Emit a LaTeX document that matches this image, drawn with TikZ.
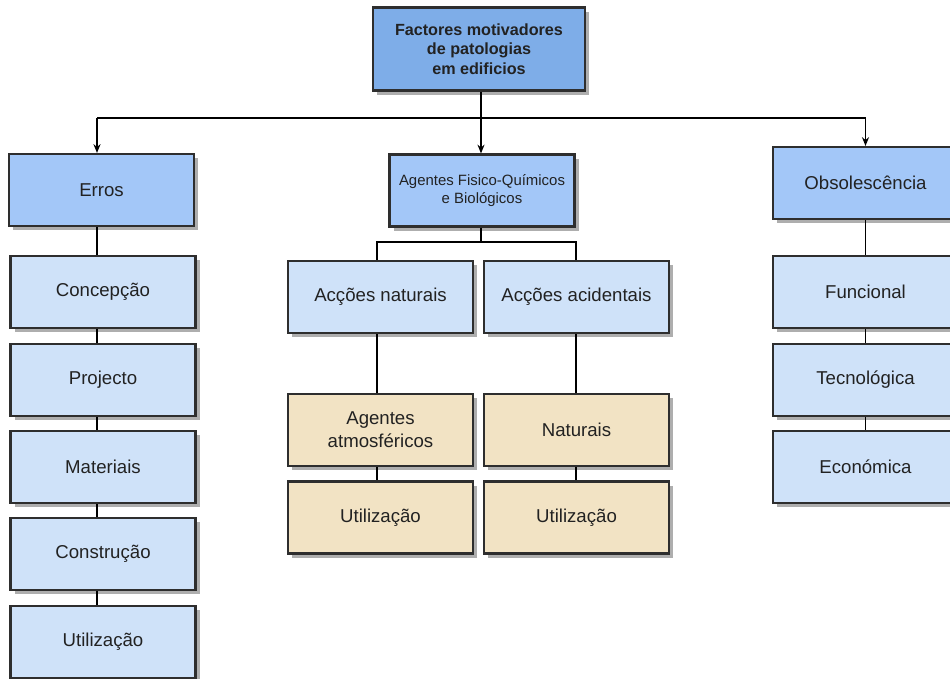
\documentclass[tikz,border=0pt]{standalone}
\usepackage{fontspec}
\setmainfont{Liberation Sans}
\usetikzlibrary{shadows,arrows.meta}
\definecolor{rootfill}{HTML}{7EADE8}
\definecolor{headfill}{HTML}{A3C7F8}
\definecolor{itemfill}{HTML}{CFE2F9}
\definecolor{sandfill}{HTML}{F2E3C4}
\definecolor{edgegray}{HTML}{2E2E2E}
\definecolor{inkgray}{HTML}{222222}
\tikzset{
  box/.style={draw=edgegray, line width=1.2pt, rectangle, align=center,
    text=inkgray, inner sep=2pt,
    drop shadow={shadow xshift=2.5pt, shadow yshift=-2.5pt, opacity=0.45, fill=black!70}},
  rootbox/.style={box, fill=rootfill, minimum width=4.24cm, minimum height=1.66cm,
    font=\fontsize{9.2}{11.2}\selectfont\bfseries},
  headbox/.style={box, fill=headfill, minimum width=3.7cm, minimum height=1.44cm,
    font=\fontsize{10.6}{13}\selectfont},
  itembox/.style={box, fill=itemfill, minimum width=3.7cm, minimum height=1.44cm,
    font=\fontsize{10.6}{13}\selectfont},
  sandbox/.style={box, fill=sandfill, minimum width=3.7cm, minimum height=1.44cm,
    font=\fontsize{10.6}{13}\selectfont},
  link/.style={draw=black, line width=0.8pt},
  feed/.style={link, -{Stealth[length=5pt,width=4pt]}},
}
\begin{document}
\begin{tikzpicture}[x=0.02cm, y=-0.02cm]
\useasboundingbox (0,0) rectangle (950,679);
\begin{scope}
\clip (0,0) rectangle (950,679);

% root
\node[rootbox] (root) at (479,49) {Factores motivadores\\de patologias\\em edificios};

% second level
\node[headbox] (erros) at (101.5,190) {Erros};
\node[headbox, font=\fontsize{8.5}{10.5}\selectfont] (agentes) at (482,190.5) {Agentes Fisico-Químicos\\e Biológicos};
\node[headbox] (obsol) at (865.5,183) {Obsolescência};

% Erros column
\node[itembox] (conc) at (103,292) {Concepção};
\node[itembox] (proj) at (103,380) {Projecto};
\node[itembox] (mat)  at (103,467) {Materiais};
\node[itembox] (cons) at (103,554) {Construção};
\node[itembox] (util) at (103,642) {Utilização};

% Agentes column
\node[itembox] (nat) at (380.5,297) {Acções naturais};
\node[itembox] (aci) at (576.5,297) {Acções acidentais};
\node[sandbox] (atm) at (380.5,430) {Agentes\\atmosféricos};
\node[sandbox] (natu) at (576.5,430) {Naturais};
\node[sandbox] (uta) at (380.5,517.5) {Utilização};
\node[sandbox] (utb) at (576.5,517.5) {Utilização};

% Obsolescencia column
\node[itembox] (func) at (865.5,292) {Funcional};
\node[itembox] (tecn) at (865.5,380) {Tecnológica};
\node[itembox] (econ) at (865.5,467) {Económica};

% vertical guide lines of the three branches
\coordinate (colE) at (97,0);
\coordinate (colA) at (481,0);
\coordinate (colN) at (377,0);
\coordinate (colC) at (576,0);

% connectors from the root
\coordinate (bus) at (481,118);
\draw[link] (root.south -| colA) -- (bus);
\draw[link] (bus -| colE) -- (bus -| obsol.north);
\draw[feed] (bus -| colE) -- (erros.north -| colE);
\draw[feed] (bus) -- (agentes.north -| colA);
\draw[feed] (bus -| obsol.north) -- (obsol.north);

% Erros chain
\foreach \a/\b in {erros/conc, conc/proj, proj/mat, mat/cons, cons/util}
  \draw[link] (\a.south -| colE) -- (\b.north -| colE);

% Agentes split
\coordinate (split) at (481,242);
\draw[link] (agentes.south -| colA) -- (split);
\draw[link] (nat.north -| colN) |- (split) -| (aci.north -| colC);
\draw[link] (nat.south -| colN) -- (atm.north -| colN);
\draw[link] (atm.south -| colN) -- (uta.north -| colN);
\draw[link] (aci.south -| colC) -- (natu.north -| colC);
\draw[link] (natu.south -| colC) -- (utb.north -| colC);

% Obsolescencia chain
\foreach \a/\b in {obsol/func, func/tecn, tecn/econ}
  \draw[link] (\a.south) -- (\b.north);
\end{scope}
\end{tikzpicture}
\end{document}
